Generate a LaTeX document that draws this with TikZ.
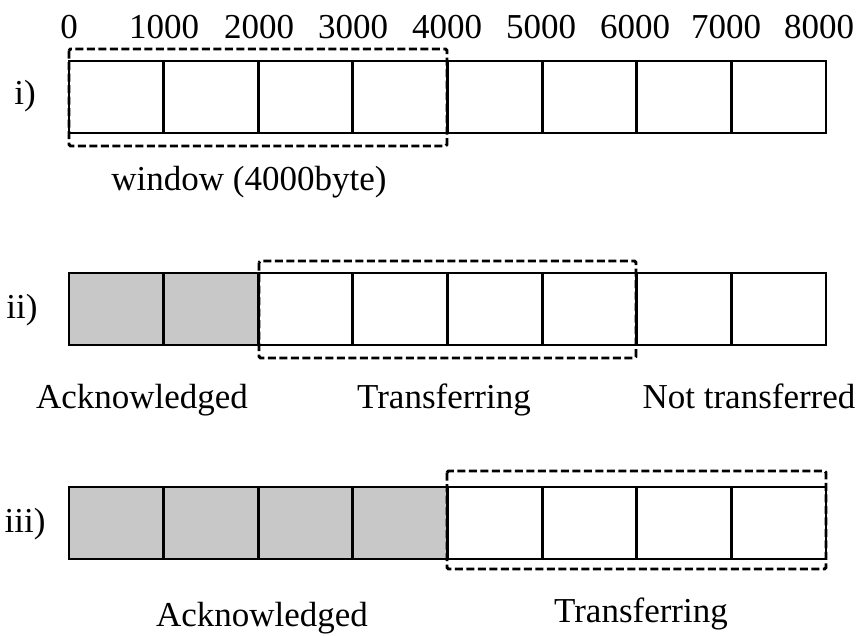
\documentclass[tikz,border=0pt]{standalone}
\usepackage{fontspec}
\setmainfont{Liberation Serif}
\definecolor{ackgray}{RGB}{200,200,200}
\begin{document}
\begin{tikzpicture}[x=1pt,y=-1pt,
  cell/.style={draw, line width=2.9pt, minimum width=94.625pt, minimum height=72pt,
    inner sep=0pt, outer sep=0pt, anchor=north west},
  acked/.style={cell, fill=ackgray},
  window/.style={draw, line width=2.9pt, dash pattern=on 8pt off 3.5pt, rounded corners=1.5pt},
  lbl/.style={font=\fontsize{35}{42}\selectfont, inner sep=0pt, anchor=base}]
  \useasboundingbox (0,0) rectangle (865,635);

  % byte offsets along the top
  \foreach \v/\x in {0/69,1000/164,2000/259,3000/353,4000/447,5000/541,6000/635,7000/726,8000/819}
    \node[lbl] (n\v) at (\x,38) {\v};

  % row i): nothing sent yet
  \foreach \k in {0,...,7}
    \node[cell] (a\k) at (69+\k*94.625,61) {};
  \draw[window] (69,49) rectangle (447,146);
  \node[lbl] (ri) at (25,104) {i)};
  \node[lbl] (win) at (249,190) {window (4000byte)};

  % row ii): two segments acknowledged
  \foreach \k in {0,1}
    \node[acked] (b\k) at (69+\k*94.625,273) {};
  \foreach \k in {2,...,7}
    \node[cell] (b\k) at (69+\k*94.625,273) {};
  \draw[window] (259,261) rectangle (636,358);
  \node[lbl] (rii) at (22,318) {ii)};
  \node[lbl] (ackii) at (142,408) {Acknowledged};
  \node[lbl] (trii) at (444,408) {Transferring};
  \node[lbl] (notii) at (749,408) {Not transferred};

  % row iii): four segments acknowledged
  \foreach \k in {0,...,3}
    \node[acked] (c\k) at (69+\k*94.625,487) {};
  \foreach \k in {4,...,7}
    \node[cell] (c\k) at (69+\k*94.625,487) {};
  \draw[window] (447,471) rectangle (826,569);
  \node[lbl] (riii) at (25,532) {iii)};
  \node[lbl] (ackiii) at (262,626) {Acknowledged};
  \node[lbl] (triii) at (641,622) {Transferring};
\end{tikzpicture}
\end{document}
